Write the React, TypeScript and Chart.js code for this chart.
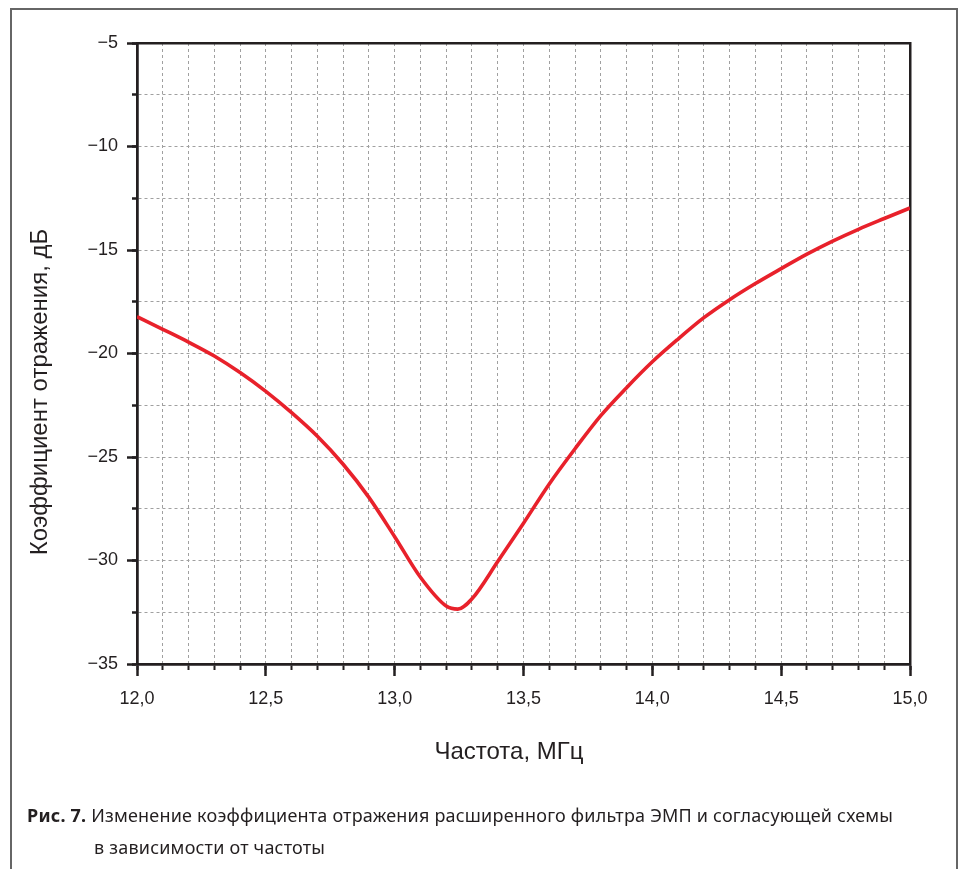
import React, { useEffect, useRef } from "react";
import { Chart, registerables } from "chart.js";

Chart.register(...registerables);

const FREQ_MHZ = [
  12.0, 12.1, 12.2, 12.3, 12.4, 12.5, 12.6, 12.7, 12.8, 12.9, 13.0, 13.1, 13.2,
  13.245, 13.3, 13.4, 13.5, 13.6, 13.7, 13.8, 13.9, 14.0, 14.1, 14.2, 14.3, 14.4,
  14.5, 14.6, 14.7, 14.8, 14.9, 15.0,
];
const S11_DB = [
  -18.22, -18.83, -19.45, -20.12, -20.92, -21.83, -22.86, -24.0, -25.35, -26.95,
  -28.85, -30.81, -32.2, -32.35, -31.85, -30.05, -28.2, -26.3, -24.6, -23.0,
  -21.65, -20.4, -19.3, -18.27, -17.4, -16.62, -15.9, -15.2, -14.57, -14.0,
  -13.48, -12.97,
];

const X_TICK_VALUES = [12.0, 12.5, 13.0, 13.5, 14.0, 14.5, 15.0];
const X_TICK_LABELS = ["12,0", "12,5", "13,0", "13,5", "14,0", "14,5", "15,0"];
const Y_TICK_VALUES = [-5, -10, -15, -20, -25, -30, -35];
const Y_TICK_LABELS = ["\u22125", "\u221210", "\u221215", "\u221220", "\u221225", "\u221230", "\u221235"];

const X_TITLE = "Частота, МГц";
const Y_TITLE = "Коэффициент отражения, дБ";
const CAPTION_BOLD = "Рис. 7.";
const CAPTION_LINE1 = " Изменение коэффициента отражения расширенного фильтра ЭМП и согласующей схемы";
const CAPTION_LINE2 = "в зависимости от частоты";

const X_MIN = 12, X_MAX = 15, Y_MIN = -35, Y_MAX = -5;

const INK = "#231f20";
const GRID = "#a0a0a0";
const RED = "#e8212b";
const FONT = "'Liberation Sans', Arial, sans-serif";

const lookup = (vals: number[], labels: string[]) => (v: any) => {
  const i = vals.findIndex((t) => Math.abs(t - Number(v)) < 1e-6);
  return i >= 0 ? labels[i] : "";
};

export default function App() {
  const ref = useRef<HTMLCanvasElement | null>(null);

  useEffect(() => {
    if (!ref.current) return;
    const titlePlugin = {
      id: "axisTitles",
      afterDraw(chart: any) {
        const { ctx, chartArea } = chart;
        ctx.save();
        ctx.fillStyle = INK;
        ctx.font = `24px ${FONT}`;
        ctx.textAlign = "center";
        ctx.textBaseline = "middle";
        ctx.fillText(X_TITLE, chartArea.left + 372, chartArea.bottom + 88);
        ctx.translate(40, chartArea.top + 349);
        ctx.rotate(-Math.PI / 2);
        ctx.fillText(Y_TITLE, 0, 0);
        ctx.restore();
      },
    };
    const chart = new Chart(ref.current, {
      type: "line",
      data: {
        datasets: [
          {
            data: FREQ_MHZ.map((f, i) => ({ x: f, y: S11_DB[i] })),
            borderColor: RED,
            borderWidth: 3.6,
            pointRadius: 0,
            cubicInterpolationMode: "monotone",
            fill: false,
            xAxisID: "x",
            yAxisID: "y",
          },
        ],
      },
      options: {
        animation: false,
        responsive: false,
        maintainAspectRatio: false,
        layout: { padding: 0 },
        plugins: { legend: { display: false }, tooltip: { enabled: false } },
        scales: {
          x: {
            type: "linear",
            position: "bottom",
            weight: 0,
            min: X_MIN,
            max: X_MAX,
            ticks: { stepSize: 0.1, display: false, autoSkip: false },
            grid: { color: GRID, lineWidth: 1, tickLength: 6, tickColor: INK, tickWidth: 2 },
            border: { display: true, color: INK, width: 2.5, dash: [3, 3] },
            afterFit: (s: any) => { s.height = 0; },
          },
          xMajor: {
            type: "linear",
            position: "bottom",
            weight: 1,
            min: X_MIN,
            max: X_MAX,
            ticks: {
              stepSize: 0.5,
              autoSkip: false,
              maxRotation: 0,
              padding: 12,
              color: INK,
              font: { family: FONT, size: 18 },
              callback: lookup(X_TICK_VALUES, X_TICK_LABELS),
            },
            grid: { drawOnChartArea: false, tickLength: 12, tickColor: INK, tickWidth: 2.5 },
            border: { display: true, color: INK, width: 2.5 },
            afterFit: (s: any) => { s.height = 205; },
          },
          y: {
            type: "linear",
            position: "left",
            weight: 0,
            min: Y_MIN,
            max: Y_MAX,
            ticks: { stepSize: 2.5, display: false, autoSkip: false },
            grid: { color: GRID, lineWidth: 1, tickLength: 5, tickColor: INK, tickWidth: 2.5 },
            border: { display: true, color: INK, width: 2.5, dash: [3, 3] },
            afterFit: (s: any) => { s.width = 0; },
          },
          yMajor: {
            type: "linear",
            position: "left",
            weight: 1,
            min: Y_MIN,
            max: Y_MAX,
            ticks: {
              stepSize: 5,
              autoSkip: false,
              padding: 9,
              color: INK,
              font: { family: FONT, size: 18 },
              callback: lookup(Y_TICK_VALUES, Y_TICK_LABELS),
            },
            grid: { drawOnChartArea: false, tickLength: 10, tickColor: INK, tickWidth: 2.5 },
            border: { display: true, color: INK, width: 2.5 },
            afterFit: (s: any) => { s.width = 137; },
          },
          xTop: {
            type: "linear",
            position: "top",
            min: X_MIN,
            max: X_MAX,
            ticks: { display: false },
            grid: { drawOnChartArea: false, drawTicks: false },
            border: { display: true, color: INK, width: 2.5 },
            afterFit: (s: any) => { s.height = 43; },
          },
          yRight: {
            type: "linear",
            position: "right",
            min: Y_MIN,
            max: Y_MAX,
            ticks: { display: false },
            grid: { drawOnChartArea: false, drawTicks: false },
            border: { display: true, color: INK, width: 2.5 },
            afterFit: (s: any) => { s.width = 54; },
          },
        },
      } as any,
      plugins: [titlePlugin],
    });
    return () => chart.destroy();
  }, []);

  const capFont = "'Noto Sans', sans-serif";
  const capStyle: React.CSSProperties = {
    position: "absolute",
    lineHeight: "24px",
    fontFamily: capFont,
    fontSize: 18,
    letterSpacing: 0.2,
    color: INK,
    whiteSpace: "nowrap",
  };
  return (
    <div style={{ position: "absolute", left: 0, top: 0, width: 964, height: 869, overflow: "hidden", background: "#fff" }}>
      <canvas ref={ref} width={964} height={869} style={{ position: "absolute", left: 0, top: 0, width: 964, height: 869 }} />
      <div
        style={{
          position: "absolute",
          left: 10,
          top: 8,
          width: 948,
          height: 900,
          boxSizing: "border-box",
          borderLeft: "2px solid #666",
          borderTop: "2px solid #666",
          borderRight: "2px solid #666",
          pointerEvents: "none",
        }}
      />
      <div style={{ ...capStyle, left: 27, top: 803 }}>
        <b>{CAPTION_BOLD}</b>
        {CAPTION_LINE1}
      </div>
      <div style={{ ...capStyle, left: 94, top: 835 }}>{CAPTION_LINE2}</div>
    </div>
  );
}
